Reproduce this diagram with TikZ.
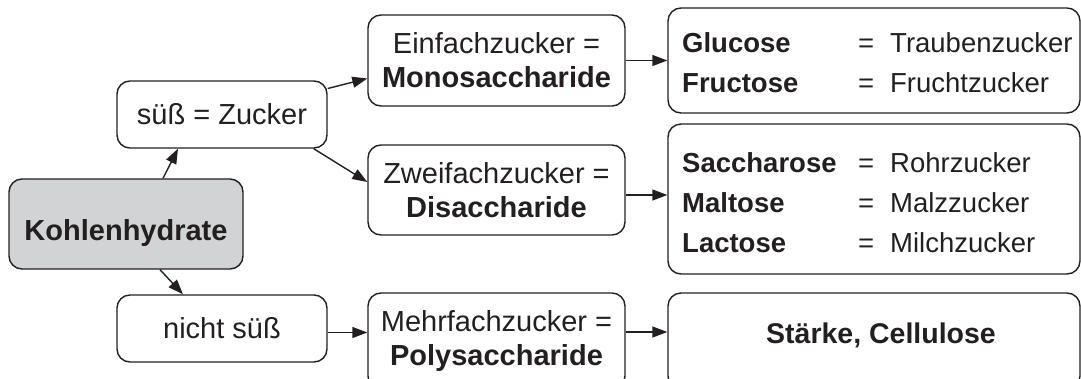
\documentclass[tikz,border=0pt]{standalone}
\usepackage{fontspec}
\setmainfont{Liberation Sans}
\usetikzlibrary{arrows.meta}

\definecolor{ink}{HTML}{231F20}
\definecolor{khgray}{HTML}{D1D3D4}

\tikzset{arrow/.style={-{Triangle[length=15pt,width=11pt]}, line width=1.4pt, draw=ink}}
\tikzset{box/.style={draw=ink, line width=1.4pt, rounded corners=13pt, align=center, inner sep=0pt, text=ink}}
\tikzset{list/.style={anchor=north west, inner sep=0pt, align=left, text=ink, font=\fontsize{27.5}{40}\selectfont}}

\begin{document}
\begin{tikzpicture}[x=1pt, y=-1pt, every node/.style={font=\fontsize{29}{34}\selectfont}]
            \useasboundingbox (0,0) rectangle (1081,378);
            \clip (0,0) rectangle (1081,378);
            \node[box, fill=khgray, minimum width=234pt, minimum height=90pt, text height=32pt, text depth=0pt] (kh) at (126,224) {\textbf{Kohlenhydrate}};
            \node[box, minimum width=210pt, minimum height=67pt] (suess) at (222,114.5) {süß = Zucker};
            \node[box, minimum width=210pt, minimum height=67pt] (nicht) at (222,328.5) {nicht süß};
            \node[box, minimum width=257pt, minimum height=91pt] (einfach) at (496.5,60.5) {Einfachzucker =\\\textbf{Monosaccharide}};
            \node[box, minimum width=257pt, minimum height=90pt] (zweifach) at (496.5,190) {Zweifachzucker =\\\textbf{Disaccharide}};
            \node[box, minimum width=257pt, minimum height=96pt] (mehr) at (496.5,341) {Mehrfachzucker =\\\textbf{Polysaccharide}};
            \node[box, minimum width=412pt, minimum height=105pt] (monobox) at (874,60.5) {};
            \node[box, minimum width=412pt, minimum height=150pt] (dibox) at (874,199) {};
            \node[box, minimum width=412pt, minimum height=96pt] (polybox) at (874,341) {};
            \node[list] (monolist) at (682,32) {\makebox[176pt][l]{\textbf{Glucose}}\makebox[32pt][l]{=}Traubenzucker\\\makebox[176pt][l]{\textbf{Fructose}}\makebox[32pt][l]{=}Fruchtzucker};
            \node[list] (dilist) at (682,152) {\makebox[176pt][l]{\textbf{Saccharose}}\makebox[32pt][l]{=}Rohrzucker\\\makebox[176pt][l]{\textbf{Maltose}}\makebox[32pt][l]{=}Malzzucker\\\makebox[176pt][l]{\textbf{Lactose}}\makebox[32pt][l]{=}Milchzucker};
            \node[anchor=base, inner sep=0pt, text=ink, font=\fontsize{28.5}{34}\selectfont] (polylist) at (881,343) {\textbf{Stärke, Cellulose}};
            \draw[arrow] ([xshift=37pt]kh.north) -- ([xshift=-44pt]suess.south);
            \draw[arrow] ([xshift=34pt]kh.south) -- ([xshift=-39pt]nicht.north);
            \draw[arrow] ([yshift=26pt]suess.east) -- ([yshift=-18pt]einfach.west);
            \draw[arrow] ([xshift=-14pt]suess.south east) -- ([yshift=8pt]zweifach.west);
            \draw[arrow] ([yshift=-4pt]nicht.east) -- ([yshift=-4pt]nicht.east -| mehr.west);
            \draw[arrow] (einfach.east) -- (monobox.west);
            \draw[arrow] ([yshift=-5pt]zweifach.east) -- ([yshift=-5pt]zweifach.east -| dibox.west);
            \draw[arrow] ([yshift=9pt]mehr.east) -- ([yshift=9pt]mehr.east -| polybox.west);
        \end{tikzpicture}
\end{document}
